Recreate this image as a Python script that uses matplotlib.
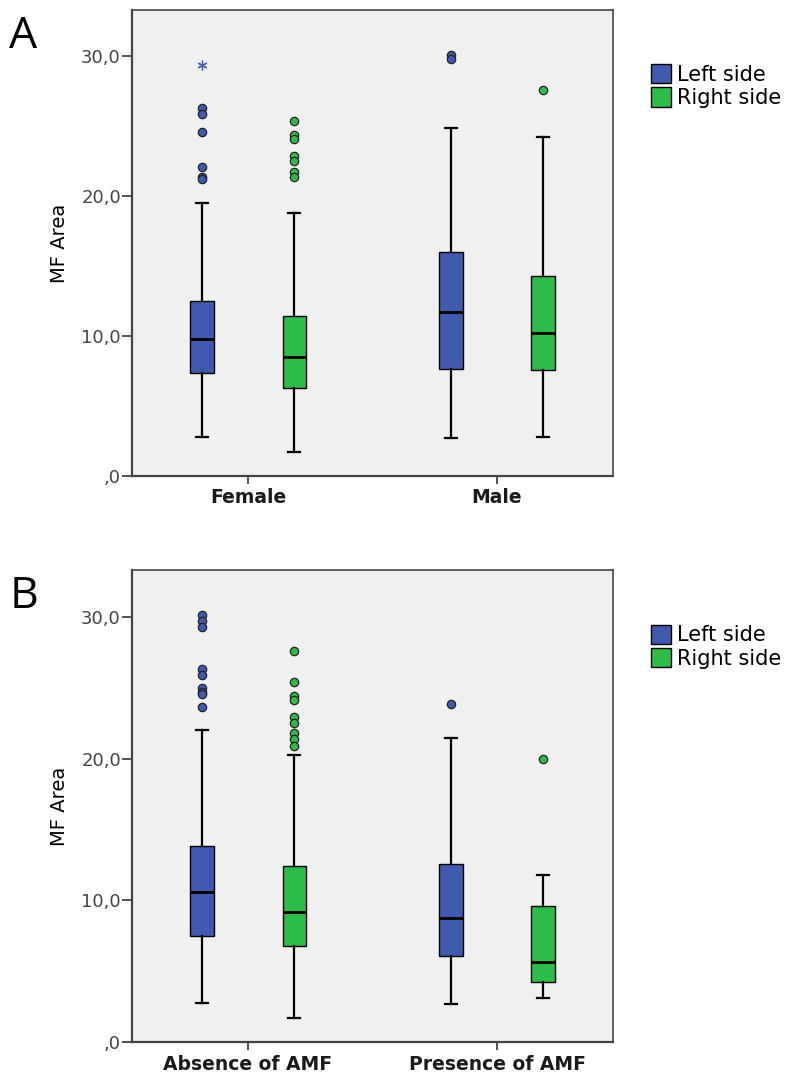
import numpy as np
import matplotlib
matplotlib.use("Agg")
import matplotlib.pyplot as plt
from matplotlib.patches import Patch

# panel A : sex
groups_a = ["Female", "Male"]
left_a_q1 = [7.36, 7.64]
left_a_med = [9.79, 11.7]
left_a_q3 = [12.5, 16.0]
left_a_lo = [2.79, 2.7]
left_a_hi = [19.5, 24.9]
left_a_out = [[26.3, 25.9, 24.6, 22.1, 21.4, 21.2], [30.1, 29.8]]
left_a_extreme = [[29.4], []]
right_a_q1 = [6.3, 7.6]
right_a_med = [8.5, 10.2]
right_a_q3 = [11.4, 14.3]
right_a_lo = [1.7, 2.8]
right_a_hi = [18.8, 24.2]
right_a_out = [[25.4, 24.4, 24.1, 22.9, 22.5, 21.7, 21.4], [27.6]]
right_a_extreme = [[], []]

# panel B : AMF
groups_b = ["Absence of AMF", "Presence of AMF"]
left_b_q1 = [7.49, 6.06]
left_b_med = [10.59, 8.78]
left_b_q3 = [13.85, 12.58]
left_b_lo = [2.77, 2.68]
left_b_hi = [22.04, 21.46]
left_b_out = [[30.1, 29.7, 29.3, 26.3, 25.9, 25.0, 24.7, 24.55, 23.66], [23.85]]
left_b_extreme = [[], []]
right_b_q1 = [6.76, 4.23]
right_b_med = [9.18, 5.63]
right_b_q3 = [12.44, 9.58]
right_b_lo = [1.67, 3.08]
right_b_hi = [20.28, 11.76]
right_b_out = [[27.56, 25.38, 24.44, 24.13, 22.9, 22.5, 21.8, 21.4, 20.9], [19.98]]
right_b_extreme = [[], []]

series_names = ["Left side", "Right side"]
yticks = [0, 10, 20, 30]
ytick_labels = [",0", "10,0", "20,0", "30,0"]

BLUE = "#3f5aae"
GREEN = "#2fbb4a"
BG = "#f0f0f0"

plt.rcParams['font.family'] = ['DejaVu Sans']


def make_stats(q1, med, q3, lo, hi, out):
    stats = []
    for i in range(len(q1)):
        stats.append(dict(q1=q1[i], med=med[i], q3=q3[i], whislo=lo[i],
                          whishi=hi[i], fliers=out[i]))
    return stats


def draw_panel(ax, groups, sides, letter):
    ax.set_facecolor(BG)
    offsets = [-0.185, 0.185]
    colors = [BLUE, GREEN]
    x = np.arange(len(groups))
    for k, side in enumerate(sides):
        stats = make_stats(*side[:6])
        ax.bxp(stats, positions=x + offsets[k], widths=0.093,
               patch_artist=True, capwidths=0.045,
               boxprops=dict(facecolor=colors[k], edgecolor="black", linewidth=1.0),
               medianprops=dict(color="black", linewidth=2.0),
               whiskerprops=dict(color="black", linewidth=1.6),
               capprops=dict(color="black", linewidth=1.6),
               flierprops=dict(marker="o", markerfacecolor=colors[k],
                               markeredgecolor="#222222", markersize=6,
                               markeredgewidth=0.9, linestyle="none"))
        for i, ext in enumerate(side[6]):
            if ext:
                ax.plot([x[i] + offsets[k]] * len(ext), ext, linestyle="none",
                        marker=(6, 2, 0), color=colors[k], markersize=7,
                        markeredgewidth=0.9)
    ax.set_xlim(-0.466, 1.466)
    ax.set_ylim(0, 33.3)
    ax.set_xticks(x)
    ax.set_xticklabels(groups, fontsize=13.5, fontweight="bold", color="#1a1a1a")
    ax.set_yticks(yticks)
    ax.set_yticklabels(ytick_labels, fontsize=13, color="#444444")
    ax.tick_params(axis="y", direction="out", length=7, width=1.2, color="#333333", pad=1)
    ax.tick_params(axis="x", direction="out", length=6, width=1.2, color="#333333", pad=3)
    ax.set_ylabel("MF Area", fontsize=14, labelpad=9)
    for s in ax.spines.values():
        s.set_color("#444444")
        s.set_linewidth(1.2)
    ax.spines["left"].set_linewidth(1.6)
    ax.spines["bottom"].set_linewidth(1.6)
    handles = [Patch(facecolor=BLUE, edgecolor="black", label=series_names[0]),
               Patch(facecolor=GREEN, edgecolor="black", label=series_names[1])]
    ax.legend(handles=handles, loc="upper left", bbox_to_anchor=(1.078, 0.884),
              frameon=False, fontsize=15, handlelength=1.0, handleheight=1.05,
              handletextpad=0.25, labelspacing=0.12, borderpad=0, borderaxespad=0)
    ax.text(-0.255, 0.99, letter, transform=ax.transAxes, fontsize=32,
            ha="left", va="top", family=["Open Sans", "DejaVu Sans"])


fig = plt.figure(figsize=(7.91, 10.84), dpi=100)
ax_a = fig.add_axes([0.1669, 0.5609, 0.6081, 0.4299])
ax_b = fig.add_axes([0.1669, 0.0387, 0.6081, 0.4355])

sides_a = [
    (left_a_q1, left_a_med, left_a_q3, left_a_lo, left_a_hi, left_a_out, left_a_extreme),
    (right_a_q1, right_a_med, right_a_q3, right_a_lo, right_a_hi, right_a_out, right_a_extreme),
]
sides_b = [
    (left_b_q1, left_b_med, left_b_q3, left_b_lo, left_b_hi, left_b_out, left_b_extreme),
    (right_b_q1, right_b_med, right_b_q3, right_b_lo, right_b_hi, right_b_out, right_b_extreme),
]
draw_panel(ax_a, groups_a, sides_a, "A")
draw_panel(ax_b, groups_b, sides_b, "B")

fig.savefig("out.png", dpi=100)
